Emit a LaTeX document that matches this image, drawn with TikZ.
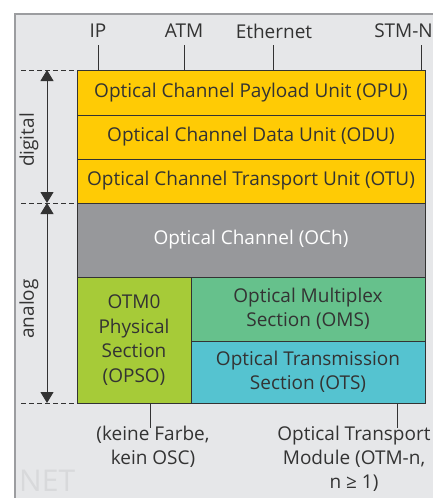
\documentclass[tikz,border=0pt]{standalone}
\usepackage{fontspec}
\setmainfont{Open Sans}
\usetikzlibrary{arrows.meta}
\definecolor{bg}{HTML}{E6E7E9}
\definecolor{frame}{HTML}{9C9DA0}
\definecolor{txt}{HTML}{333333}
\definecolor{cyel}{HTML}{FFCB05}
\definecolor{cgray}{HTML}{97989B}
\definecolor{clime}{HTML}{A6CB38}
\definecolor{cgreen}{HTML}{66C18C}
\definecolor{ccyan}{HTML}{55C3D0}
\definecolor{wm}{HTML}{D8D9DB}
\tikzset{
  box/.style={draw=txt, line width=0.9pt, inner sep=2pt, align=center, text=txt, font=\fontsize{19}{24.5}\selectfont},
  lbl/.style={text=txt, font=\fontsize{19}{24}\selectfont, align=center, inner sep=0pt},
  tick/.style={draw=txt, line width=0.9pt},
  dashline/.style={draw=txt, line width=0.8pt, dash pattern=on 5pt off 3pt},
  dimarrow/.style={draw=txt, line width=0.9pt, {Triangle[width=13pt,length=11pt]}-{Triangle[width=13pt,length=11pt]}},
}
\begin{document}
\begin{tikzpicture}[x=1pt,y=-1pt]
\useasboundingbox (0,0) rectangle (433,498);
\begin{scope}
\clip (0,0) rectangle (433,498);
\fill[bg] (15,14) rectangle (440,505);
\draw[frame, line width=2pt] (15,505) -- (15,14) -- (440,14);
\node[text=wm, font=\fontsize{30}{30}\selectfont, anchor=north west, inner sep=0pt] (net) at (19,470) {NET};
\end{scope}
% boxes
\node[box, fill=cyel, minimum width=348pt, minimum height=45pt] (opu) at (251,92.5) {Optical Channel Payload Unit (OPU)};
\node[box, fill=cyel, minimum width=348pt, minimum height=44pt] (odu) at (251,137) {Optical Channel Data Unit (ODU)};
\node[box, fill=cyel, minimum width=348pt, minimum height=44pt] (otu) at (251,181) {Optical Channel Transport Unit (OTU)};
\node[box, fill=cgray, text=white, minimum width=348pt, minimum height=74pt] (och) at (251,240) {Optical Channel (OCh)};
\node[box, fill=clime, minimum width=114pt, minimum height=126pt] (opso) at (134,340) {OTM0\\Physical\\Section\\(OPSO)};
\node[box, fill=cgreen, minimum width=234pt, minimum height=64pt] (oms) at (308,309) {Optical Multiplex\\Section (OMS)};
\node[box, fill=ccyan, minimum width=234pt, minimum height=62pt] (ots) at (308,372) {Optical Transmission\\Section (OTS)};
% top labels
\node[lbl] (ip) at (98,31) {IP};
\node[lbl] (atm) at (184,31) {ATM};
\node[lbl] (eth) at (274,31) {Ethernet};
\node[lbl, anchor=east] (stm) at (433,31) {STM-N};
\coordinate (ipt) at (98,45);
\coordinate (atmt) at (184,45);
\coordinate (etht) at (273,45);
\coordinate (stmt) at (421,45);
\draw[tick] (ipt) -- (ipt |- opu.north);
\draw[tick] (atmt) -- (atmt |- opu.north);
\draw[tick] (etht) -- (etht |- opu.north);
\draw[tick] (stmt) -- (stmt |- opu.north);
% dashed lines and arrows
\coordinate (d1) at (21,70);
\coordinate (d2) at (21,203);
\coordinate (d3) at (21,403);
\draw[dashline] (d1) -- (d1 -| opu.west);
\draw[dashline] (d2) -- (d2 -| och.west);
\draw[dashline] (d3) -- (d3 -| opso.west);
\coordinate (a1) at (47,70);
\coordinate (a2) at (47,203);
\coordinate (a3) at (47,403);
\draw[dimarrow] (a1) -- (a2);
\draw[dimarrow] (a2) -- (a3);
\node[lbl, rotate=90] (dig) at (29,140) {digital};
\node[lbl, rotate=90] (ana) at (29,309) {analog};
% bottom labels
\coordinate (b1) at (150,428);
\coordinate (b2) at (397,428);
\draw[tick] (b1 |- opso.south) -- (b1);
\draw[tick] (b2 |- ots.south) -- (b2);
\node[lbl, anchor=north] (kf) at (153,426) {(keine Farbe,\\kein OSC)};
\node[lbl, anchor=north] (otm) at (354,426) {Optical Transport\\Module (OTM-n,\\n ≥ 1)};
\end{tikzpicture}
\end{document}
